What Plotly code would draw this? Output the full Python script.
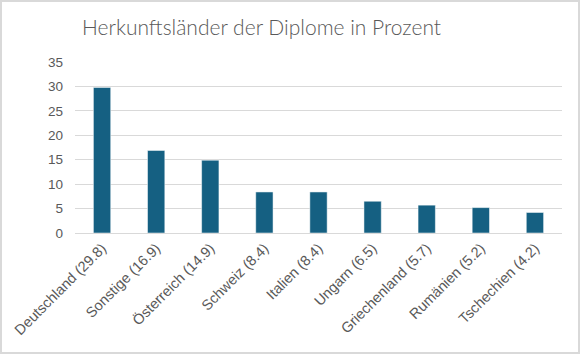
import plotly.graph_objects as go

categories = ["Deutschland (29.8)", "Sonstige (16.9)", "Österreich (14.9)", "Schweiz (8.4)",
              "Italien (8.4)", "Ungarn (6.5)", "Griechenland (5.7)", "Rumänien (5.2)", "Tschechien (4.2)"]
values = [29.8, 16.9, 14.9, 8.4, 8.4, 6.5, 5.7, 5.2, 4.2]
y_ticks = [0, 5, 10, 15, 20, 25, 30, 35]

W, H = 581, 355
ml, mr, mt, mb = 75, 19, 62, 122
pw, ph = W - ml - mr, H - mt - mb

fig = go.Figure(go.Bar(
    x=categories, y=values,
    marker=dict(color="#156082", line=dict(color="white", width=0.5)),
    width=0.32,
))

def px_to_paper_x(px):
    return (px - ml) / pw

def px_to_paper_y(py):
    return (H - mb - py) / ph

fig.add_shape(type="rect", xref="paper", yref="paper",
              x0=px_to_paper_x(1), x1=px_to_paper_x(W - 2),
              y0=px_to_paper_y(H - 2), y1=px_to_paper_y(1),
              line=dict(color="#d9d9d9", width=2), layer="below")

fig.add_annotation(text="Herkunftsländer der Diplome in Prozent", xref="paper", yref="paper",
                   x=px_to_paper_x(261), y=px_to_paper_y(27), xanchor="center", yanchor="middle",
                   showarrow=False,
                   font=dict(family="Lato, Open Sans, sans-serif", size=21, color="#595959", weight=300))

fig.update_layout(
    width=W, height=H,
    margin=dict(l=ml, r=mr, t=mt, b=mb, autoexpand=False),
    paper_bgcolor="white", plot_bgcolor="white",
    font=dict(family="Liberation Sans, Arial, sans-serif", color="#595959", size=13),
    showlegend=False,
)
fig.update_xaxes(tickangle=-45, showline=True, linecolor="#d9d9d9", linewidth=1,
                 ticks="", automargin=False, tickfont=dict(size=14.5, color="#595959"))
fig.update_yaxes(range=[0, 35], tickvals=y_ticks, showgrid=True, gridcolor="#d9d9d9",
                 gridwidth=1, zeroline=False, showline=False, ticks="", automargin=False,
                 tickfont=dict(size=13.5, color="#595959"), ticklabelstandoff=11)

fig.write_html("out.html", config={"displayModeBar": False},
               post_script="document.body.style.margin='0px';")
